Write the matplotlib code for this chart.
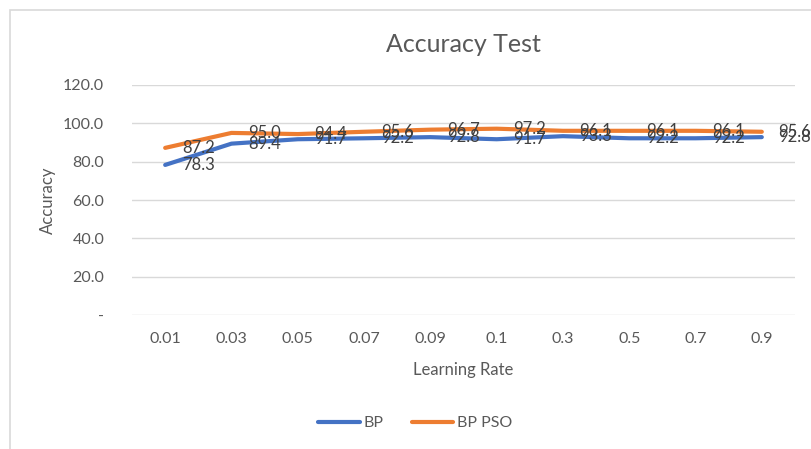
import matplotlib
matplotlib.use("Agg")
import matplotlib.pyplot as plt
from matplotlib.patches import Rectangle

plt.rcParams['font.family'] = ['Lato', 'DejaVu Sans']

# datos del grafico
tasas = ["0.01", "0.03", "0.05", "0.07", "0.09", "0.1", "0.3", "0.5", "0.7", "0.9"]
bp = [78.3, 89.4, 91.7, 92.2, 92.8, 91.7, 93.3, 92.2, 92.2, 92.8]
bp_pso = [87.2, 95.0, 94.4, 95.6, 96.7, 97.2, 96.1, 96.1, 96.1, 95.6]
y_ticks = [0, 20, 40, 60, 80, 100, 120]

gris = "#595959"
azul = "#4472C4"
naranja = "#ED7D31"

fig = plt.figure(figsize=(8.12, 4.49), dpi=100)
ax = fig.add_axes([0.1626, 0.2984, 0.8164, 0.5123])

# borde del grafico
fig.patches.append(Rectangle((10 / 812, -0.1), 1.2, 1.1 - 10 / 449,
                             transform=fig.transFigure, fill=False,
                             edgecolor="#D9D9D9", linewidth=1.2))

x = range(len(tasas))
ax.plot(x, bp, color=azul, linewidth=3, solid_capstyle="round", label="BP", zorder=3)
ax.plot(x, bp_pso, color=naranja, linewidth=3, solid_capstyle="round", label="BP PSO", zorder=3)

for i in x:
    ax.annotate(f"{bp[i]:.1f}", (i, bp[i]), xytext=(12, 0), textcoords="offset points",
                ha="left", va="center", fontsize=12, color="#404040", zorder=4)
    ax.annotate(f"{bp_pso[i]:.1f}", (i, bp_pso[i]), xytext=(12, 0), textcoords="offset points",
                ha="left", va="center", fontsize=12, color="#404040", zorder=4)

ax.set_xlim(-0.5, len(tasas) - 0.5)
ax.set_ylim(0, 120)
ax.set_xticks(list(x))
ax.set_xticklabels(tasas)
ax.set_yticks(y_ticks)
ax.set_yticklabels(["-" if v == 0 else f"{v:.1f}" for v in y_ticks])
ax.tick_params(length=0, labelsize=11.5, labelcolor=gris, pad=12)
ax.tick_params(axis="y", pad=20)
ax.grid(axis="y", color="#D9D9D9", linewidth=1)
ax.set_axisbelow(True)
for s in ax.spines.values():
    s.set_visible(False)

ax.set_title("Accuracy Test", fontsize=18, color=gris, pad=24)
ax.set_xlabel("Learning Rate", fontsize=12, color=gris, labelpad=12)
ax.set_ylabel("Accuracy", fontsize=12, color=gris, labelpad=5)

ax.legend(loc="center", bbox_to_anchor=(0.427, -0.47), ncol=2, frameon=False,
          fontsize=11.5, labelcolor=gris, handlelength=2.6, handletextpad=0.2,
          columnspacing=1.8)

fig.savefig("out.png", dpi=100)
